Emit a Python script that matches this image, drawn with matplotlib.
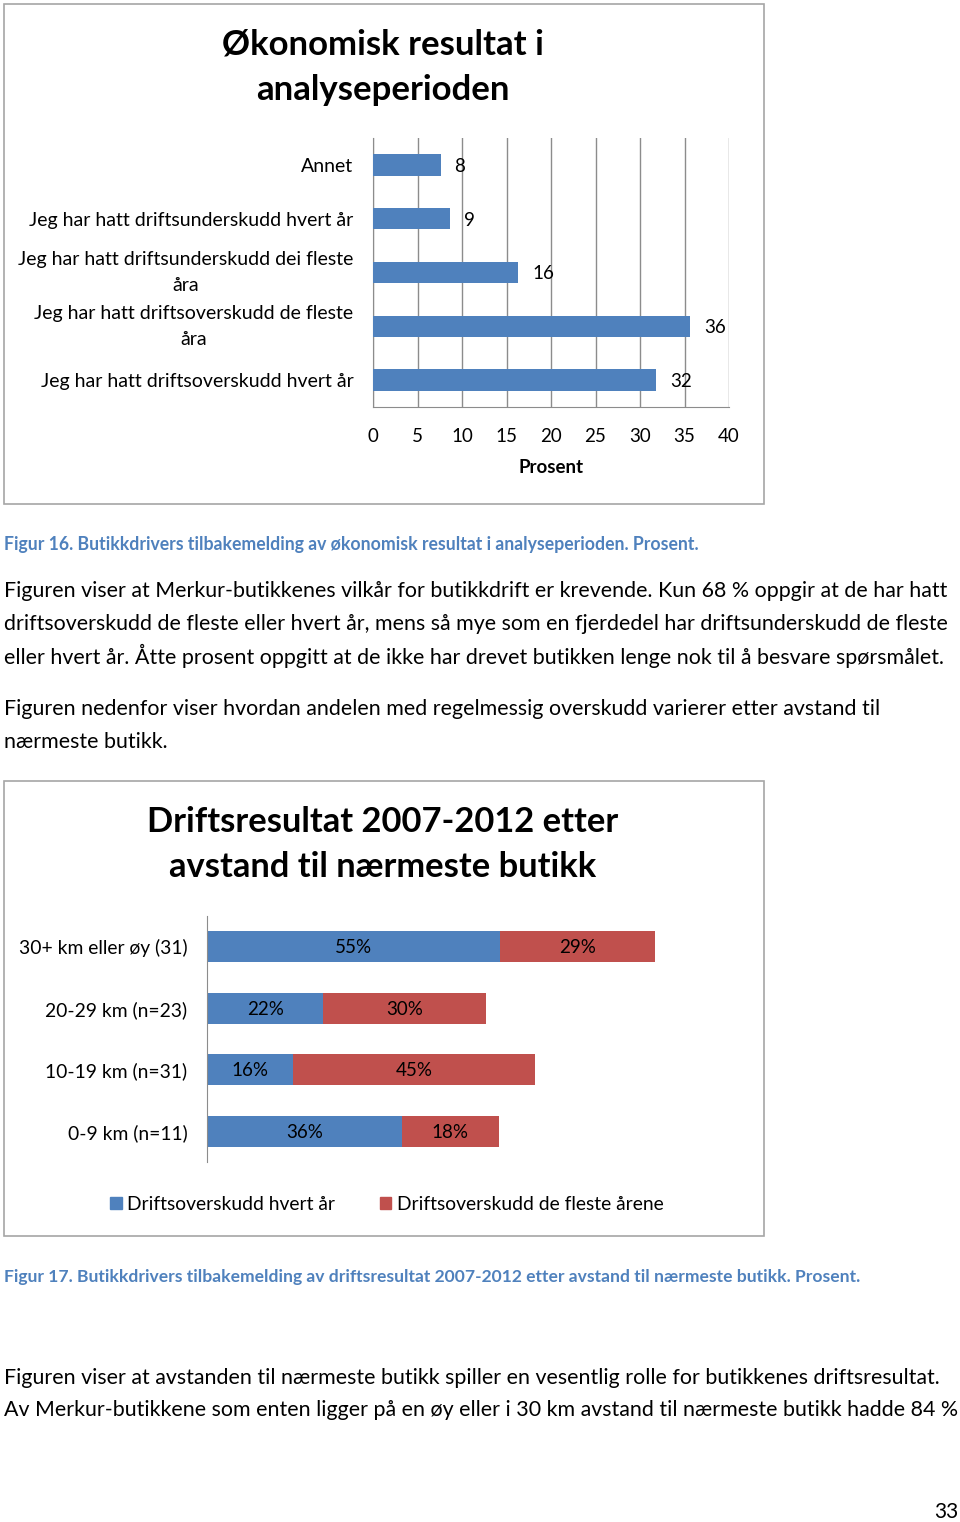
import matplotlib
matplotlib.use("Agg")
import matplotlib.pyplot as plt
from matplotlib.patches import Rectangle, Patch

plt.rcParams['font.family'] = ['Lato', 'DejaVu Sans']

# ---------------- data ----------------
cat1 = ["Annet",
        "Jeg har hatt driftsunderskudd hvert år",
        "Jeg har hatt driftsunderskudd dei fleste\nåra",
        "Jeg har hatt driftsoverskudd de fleste\nåra",
        "Jeg har hatt driftsoverskudd hvert år"]
val1 = [7.6, 8.7, 16.3, 35.6, 31.8]
ticks1 = [0, 5, 10, 15, 20, 25, 30, 35, 40]

cat2 = ["30+ km eller øy (31)", "20-29 km (n=23)", "10-19 km (n=31)", "0-9 km (n=11)"]
hvert_aar = [54.8, 21.7, 16.1, 36.4]
fleste_aar = [29.0, 30.4, 45.2, 18.2]
series2 = ["Driftsoverskudd hvert år", "Driftsoverskudd de fleste årene"]

BLUE = "#4F81BD"
RED = "#C0504D"
CAP = "#4F81BD"
GRAY = "#A6A6A6"

W, H = 960, 1522
fig = plt.figure(figsize=(W / 100, H / 100), dpi=100)


def rect(l, t, r, b):
    return [l / W, 1 - b / H, (r - l) / W, (b - t) / H]


def ftext(x, y, s, **kw):
    fig.text(x / W, 1 - y / H, s, **kw)


# frames
for (l, t, r, b) in [(4, 4, 764, 504), (4, 781, 764, 1236)]:
    fig.patches.append(Rectangle((l / W, 1 - b / H), (r - l) / W, (b - t) / H,
                                 transform=fig.transFigure, fill=False,
                                 edgecolor=GRAY, linewidth=1.2))

# ---------------- chart 1 ----------------
ftext(383, 44, "Økonomisk resultat i", ha="center", va="center",
      fontsize=25, fontweight="bold")
ftext(383, 90, "analyseperioden", ha="center", va="center",
      fontsize=25, fontweight="bold")

ax1 = fig.add_axes(rect(373, 138, 729, 407))
pos1 = list(range(len(cat1)))
ax1.barh(pos1, val1, height=0.4, color=BLUE, zorder=3)
ax1.set_xlim(0, 40)
ax1.set_ylim(len(cat1) - 0.5, -0.5)
ax1.set_xticks(ticks1)
ax1.set_xticklabels([str(t) for t in ticks1], fontsize=13.5)
ax1.set_yticks(pos1)
ax1.set_yticklabels(cat1, fontsize=14, multialignment="center", linespacing=1.6)
for lbl in ax1.get_yticklabels():
    if "\n" in lbl.get_text():
        lbl.set_va("center")
ax1.tick_params(axis="both", length=0)
ax1.tick_params(axis="y", pad=14)
ax1.tick_params(axis="x", pad=15)
ax1.grid(axis="x", color="#8C8C8C", linewidth=1.0, zorder=0)
for s in ["top", "right"]:
    ax1.spines[s].set_visible(False)
for s in ["left", "bottom"]:
    ax1.spines[s].set_color("#8C8C8C")
for i, v in enumerate(val1):
    ax1.annotate(f"{v:.0f}", (v, i), xytext=(10, -1), textcoords="offset points",
                 ha="left", va="center", fontsize=13.5)
ax1.set_xlabel("Prosent", fontsize=13.5, fontweight="bold", labelpad=10)

# caption + body text
ftext(4, 544, "Figur 16. Butikkdrivers tilbakemelding av økonomisk resultat i analyseperioden. Prosent.",
      ha="left", va="center", fontsize=12.7, fontweight="bold", color=CAP)
body1 = ["Figuren viser at Merkur-butikkenes vilkår for butikkdrift er krevende. Kun 68 % oppgir at de har hatt",
         "driftsoverskudd de fleste eller hvert år, mens så mye som en fjerdedel har driftsunderskudd de fleste",
         "eller hvert år. Åtte prosent oppgitt at de ikke har drevet butikken lenge nok til å besvare spørsmålet."]
for k, line in enumerate(body1):
    ftext(4, 591 + k * 32.5, line, ha="left", va="center", fontsize=15.4)
body2 = ["Figuren nedenfor viser hvordan andelen med regelmessig overskudd varierer etter avstand til",
         "nærmeste butikk."]
for k, line in enumerate(body2):
    ftext(4, 709 + k * 32.5, line, ha="left", va="center", fontsize=15.4)

# ---------------- chart 2 ----------------
ftext(383, 822, "Driftsresultat 2007-2012 etter", ha="center", va="center",
      fontsize=24.8, fontweight="bold")
ftext(383, 867, "avstand til nærmeste butikk", ha="center", va="center",
      fontsize=24.8, fontweight="bold")

ax2 = fig.add_axes(rect(207, 916, 742, 1162))
pos2 = list(range(len(cat2)))
b1 = ax2.barh(pos2, hvert_aar, height=0.5, color=BLUE, label=series2[0])
b2 = ax2.barh(pos2, fleste_aar, left=hvert_aar, height=0.5, color=RED, label=series2[1])
ax2.set_xlim(0, 100)
ax2.set_ylim(len(cat2) - 0.5, -0.5)
ax2.set_xticks([])
ax2.set_yticks(pos2)
ax2.set_yticklabels(cat2, fontsize=13.9)
ax2.tick_params(axis="y", length=0, pad=14)
for s in ["top", "right", "bottom"]:
    ax2.spines[s].set_visible(False)
ax2.spines["left"].set_color("#8C8C8C")
for i in pos2:
    a, b = hvert_aar[i], fleste_aar[i]
    ax2.text(a / 2, i + 0.02, f"{a:.0f}%", ha="center", va="center", fontsize=13.5)
    ax2.text(a + b / 2, i + 0.02, f"{b:.0f}%", ha="center", va="center", fontsize=13.5)

ax2.legend(handles=[Patch(color=BLUE, label=series2[0]), Patch(color=RED, label=series2[1])],
           loc="center", bbox_to_anchor=(387 / W, 1 - 1204 / H),
           bbox_transform=fig.transFigure, ncol=2, frameon=False,
           fontsize=13.9, handlelength=0.6, handleheight=0.6, handletextpad=0.3,
           columnspacing=2.3)

ftext(4, 1277, "Figur 17. Butikkdrivers tilbakemelding av driftsresultat 2007-2012 etter avstand til nærmeste butikk. Prosent.",
      ha="left", va="center", fontsize=12.6, fontweight="bold", color=CAP)
body3 = ["Figuren viser at avstanden til nærmeste butikk spiller en vesentlig rolle for butikkenes driftsresultat.",
         "Av Merkur-butikkene som enten ligger på en øy eller i 30 km avstand til nærmeste butikk hadde 84 %"]
for k, line in enumerate(body3):
    ftext(4, 1378 + k * 32.5, line, ha="left", va="center", fontsize=15.4)

ftext(958, 1512, "33", ha="right", va="center", fontsize=15)

fig.savefig("out.png", dpi=100)
